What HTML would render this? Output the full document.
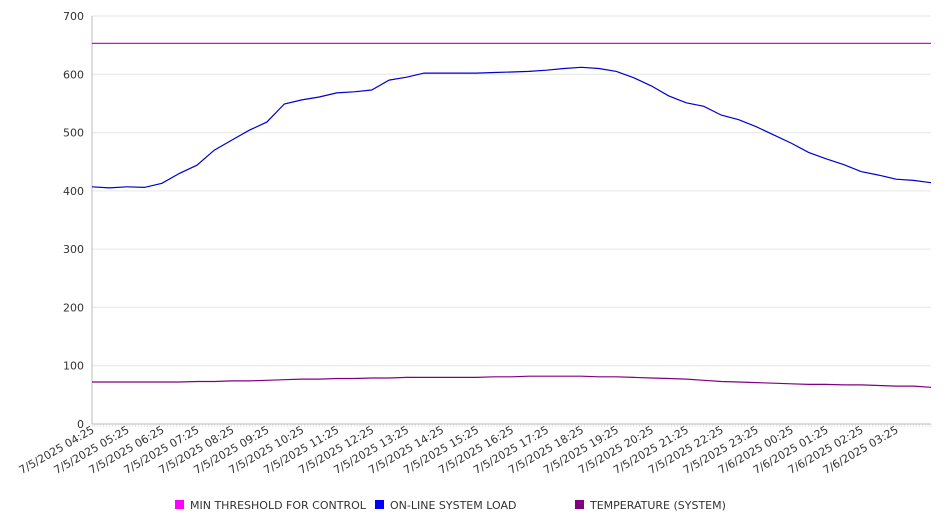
<!DOCTYPE html>
<html><head><meta charset="utf-8"><style>
body{margin:0;background:#fff;font-family:"DejaVu Sans","Liberation Sans",sans-serif}
svg text{font-family:"DejaVu Sans","Liberation Sans",sans-serif;fill:#333}
</style></head><body>
<svg id="chart" width="946" height="526" xmlns="http://www.w3.org/2000/svg"></svg>
<script>
const xLabels=["7/5/2025 04:25","7/5/2025 05:25","7/5/2025 06:25","7/5/2025 07:25","7/5/2025 08:25","7/5/2025 09:25","7/5/2025 10:25","7/5/2025 11:25","7/5/2025 12:25","7/5/2025 13:25","7/5/2025 14:25","7/5/2025 15:25","7/5/2025 16:25","7/5/2025 17:25","7/5/2025 18:25","7/5/2025 19:25","7/5/2025 20:25","7/5/2025 21:25","7/5/2025 22:25","7/5/2025 23:25","7/6/2025 00:25","7/6/2025 01:25","7/6/2025 02:25","7/6/2025 03:25"];
const yTicks=[0,100,200,300,400,500,600,700];
const threshold=[653,653];
const load=[407,405,407,406,413,430,444,470,487,504,518,549,556,561,568,570,573,590,595,602,602,602,602,603,604,605,607,610,612,610,605,594,580,563,551,545,530,522,510,496,482,466,455,445,433,427,420,418,414];
const temp=[72,72,72,72,72,72,73,73,74,74,75,76,77,77,78,78,79,79,80,80,80,80,80,81,81,82,82,82,82,81,81,80,79,78,77,75,73,72,71,70,69,68,68,67,67,66,65,65,63];
const NS="http://www.w3.org/2000/svg",svg=document.getElementById('chart');
const X0=92,X1=931,Y0=424,Y1=16;
const yS=v=>Y0-(v/700)*(Y0-Y1);
const xS=(i,n)=>X0+i*(X1-X0)/(n-1);
function mk(t,a,p){const e=document.createElementNS(NS,t);for(const k in a)e.setAttribute(k,a[k]);(p||svg).appendChild(e);return e;}
yTicks.forEach(v=>{
 const g=mk('line',{x1:X0,x2:X1,y1:yS(v),y2:yS(v),stroke:v?'#e6e6e6':'#bbb'});
 
 
 const t=mk('text',{x:84,y:yS(v)+4,'text-anchor':'end','font-size':11});
 
 
 t.textContent=v;
});
const ax=mk('line',{x1:X0,x2:X0,y1:Y1,y2:Y0,stroke:'#bbb'});


for(let i=0;i<=288;i++){const x=X0+i*(X1-X0)/288;mk('line',{x1:x,x2:x,y1:Y0,y2:Y0+3,stroke:'#ccc','stroke-width':0.5});}
xLabels.forEach((l,i)=>{
 const x=X0+i*(X1-X0)/24;
 const t=mk('text',{x:x+3,y:Y0+8,'text-anchor':'end','font-size':11,transform:`rotate(-30 ${x+3} ${Y0+8})`});
 
 
 t.textContent=l;
});
function line(arr,color,name){
 const d=arr.map((v,i)=>(i?'L':'M')+xS(i,arr.length).toFixed(1)+','+yS(v).toFixed(1)).join('');
 const p=mk('path',{d,fill:'none',stroke:color,'stroke-width':1.2});
 
 
}
line(threshold,'#e000e0','threshold-line');
line(load,'#0000cc','system-load-line');
line(temp,'#800080','temperature-line');
[['#ff00ff','MIN THRESHOLD FOR CONTROL',175],['#0000ff','ON-LINE SYSTEM LOAD',375],['#800080','TEMPERATURE (SYSTEM)',575]].forEach(([c,l,x])=>{
 const g=mk('g',{});
 
 
 mk('rect',{x:x,y:500,width:9,height:9,fill:c},g);
 const t=mk('text',{x:x+15,y:509,'font-size':11},g);
 t.textContent=l;
});
</script>
</body></html>
